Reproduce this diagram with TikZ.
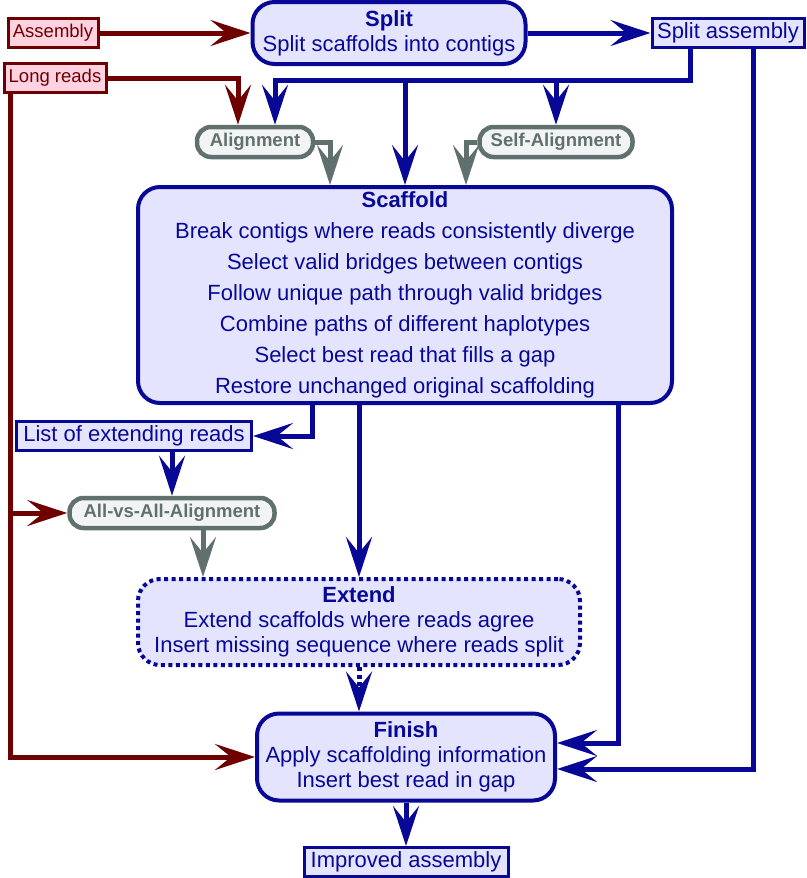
\documentclass[tikz,border=0pt]{standalone}
\usepackage{fontspec}
\setmainfont{Liberation Sans}
\usetikzlibrary{arrows.meta}
\definecolor{pipeblue}{RGB}{8,8,150}
\definecolor{pipefill}{RGB}{228,228,255}
\definecolor{inred}{RGB}{110,0,0}
\definecolor{inpink}{RGB}{255,210,225}
\definecolor{toolgray}{RGB}{95,112,110}
\definecolor{toolfill}{RGB}{242,244,244}

\tikzset{
  stage/.style={draw=pipeblue,fill=pipefill,text=pipeblue,line width=4pt,
    rounded corners=22pt,align=center,inner sep=0pt,
    font=\fontsize{22}{25}\selectfont},
  datafile/.style={draw=pipeblue,fill=pipefill,text=pipeblue,line width=3pt,
    inner sep=0pt,minimum height=29pt,font=\fontsize{22}{25}\selectfont},
  inputfile/.style={draw=inred,fill=inpink,text=inred,line width=3pt,
    inner sep=0pt,minimum height=29pt,font=\fontsize{18.5}{22}\selectfont},
  tool/.style={draw=toolgray,fill=toolfill,text=toolgray,line width=4.5pt,
    rounded corners=14pt,inner sep=0pt,minimum height=30pt,
    font=\fontsize{18.5}{22}\selectfont\bfseries},
  flow/.style={draw=pipeblue,line width=5pt,
    -{Stealth[length=40pt,width=26pt,inset=16pt]}},
  rflow/.style={flow,draw=inred},
  gflow/.style={flow,draw=toolgray},
  dots/.style={dash pattern=on 4pt off 3.5pt}
}

\begin{document}
\begin{tikzpicture}[x=1pt,y=-1pt]
\useasboundingbox (0,0) rectangle (806,878);

% Inputs and data
\node[inputfile,minimum width=90pt] (asm) at (53,33) {Assembly};
\node[inputfile,minimum width=102pt] (lr) at (55,78) {Long reads};
\node[datafile,minimum width=152pt] (sa) at (728,33) {Split assembly};
\node[datafile,minimum width=235pt] (list) at (134,436) {List of extending reads};
\node[datafile,minimum width=204pt] (imp) at (406,862) {Improved assembly};

% Tools
\node[tool,minimum width=116pt] (aln) at (255,142) {Alignment};
\node[tool,minimum width=153pt] (saln) at (556,142) {Self-Alignment};
\node[tool,minimum width=205pt] (ava) at (172,513) {All-vs-All-Alignment};

% Stages
\node[stage,minimum width=273pt,minimum height=62pt] (split) at (389,33)
  {\textbf{Split}\\Split scaffolds into contigs};
\node[stage,minimum width=534pt,minimum height=216pt,
  font=\fontsize{22}{31}\selectfont] (scaf) at (405,295)
  {\textbf{Scaffold}\\Break contigs where reads consistently diverge\\
   Select valid bridges between contigs\\
   Follow unique path through valid bridges\\
   Combine paths of different haplotypes\\
   Select best read that fills a gap\\
   Restore unchanged original scaffolding};
\node[stage,dots,minimum width=442pt,minimum height=86pt] (ext) at (359,622)
  {\textbf{Extend}\\Extend scaffolds where reads agree\\
   Insert missing sequence where reads split};
\node[stage,minimum width=298pt,minimum height=87pt] (fin) at (406,757)
  {\textbf{Finish}\\Apply scaffolding information\\Insert best read in gap};

% Helper points
\coordinate (lrdrop) at ([xshift=-45pt]lr.south);
\coordinate (sadrop) at ([xshift=-38pt]sa.south);
\coordinate (bus) at ([yshift=-31pt]sadrop);
\coordinate (avaout) at ([xshift=31pt]ava.south);

% Long reads
\draw[rflow] (asm.east) -- (split.west);
\draw[rflow] (lr.east) -| ([xshift=-17pt]aln.north);
\draw[rflow] (lrdrop) |- (fin.west);
\draw[rflow] (lrdrop |- ava.west) -- (ava.west);

% Split assembly
\draw[flow] (split.east) -- (sa.west);
\draw[flow] (sadrop) -- (bus) -| ([xshift=20pt]aln.north);
\draw[flow] (bus -| scaf.north) -- (scaf.north);
\draw[flow] (bus -| saln.north) -- (saln.north);
\draw[flow] ([xshift=25pt]sa.south) |- ([yshift=-12pt]fin.east);

% Alignments
\draw[gflow] (aln.east) -| ([xshift=-75pt]scaf.north);
\draw[gflow] (saln.west) -| ([xshift=61pt]scaf.north);

% Scaffold outputs
\draw[flow] ([xshift=-93pt]scaf.south) |- (list.east);
\draw[flow] (scaf.south -| ext.north) -- (ext.north);
\draw[flow] ([xshift=213pt]scaf.south) |- ([yshift=14pt]fin.east);
\draw[flow] (list.south -| ava.north) -- (ava.north);
\draw[gflow] (avaout) -- (avaout |- ext.north);

% Finish
\draw[flow,dots] (ext.south) -- (ext.south |- fin.north);
\draw[flow] (fin.south) -- (imp.north);
\end{tikzpicture}
\end{document}
